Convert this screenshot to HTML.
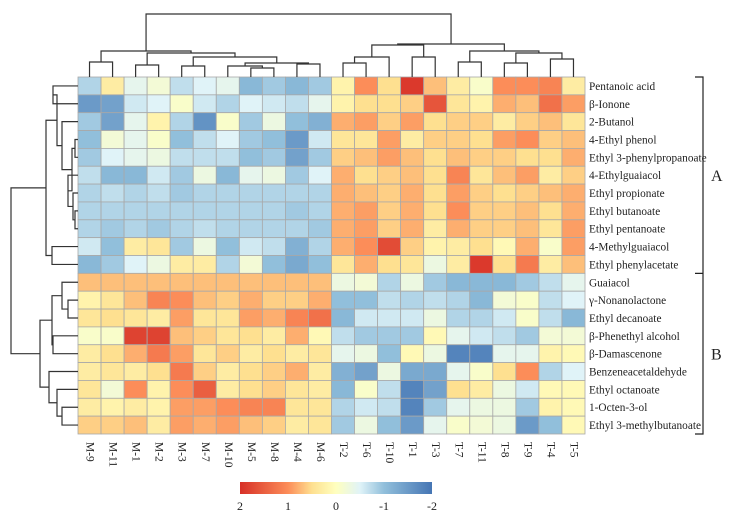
<!DOCTYPE html>
<html><head><meta charset="utf-8"><style>
body{margin:0;background:#fff;}
svg text{font-family:"Liberation Serif",serif;fill:#222;}
</style></head><body>
<svg id="chart" width="754" height="516" xmlns="http://www.w3.org/2000/svg"></svg>
<script>
const columns=["M-9","M-11","M-1","M-2","M-3","M-7","M-10","M-5","M-8","M-4","M-6","T-2","T-6","T-10","T-1","T-3","T-7","T-11","T-8","T-9","T-4","T-5"];
const rows=["Pentanoic acid","β-Ionone","2-Butanol","4-Ethyl phenol","Ethyl 3-phenylpropanoate","4-Ethylguaiacol","Ethyl propionate","Ethyl butanoate","Ethyl pentanoate","4-Methylguaiacol","Ethyl phenylacetate","Guaiacol","γ-Nonanolactone","Ethyl decanoate","β-Phenethyl alcohol","β-Damascenone","Benzeneacetaldehyde","Ethyl octanoate","1-Octen-3-ol","Ethyl 3-methylbutanoate"];
const values=[
[-0.8,0.3,-0.4,-0.2,-0.7,-0.5,-0.4,-1.1,-0.9,-1.1,-0.9, 0.2,1.0,0.5,1.9,0.7,0.3,-0.1,1.0,1.0,1.1,0.3],
[-1.5,-1.4,-0.6,-0.5,-0.1,-0.6,-0.8,-0.5,-0.6,-0.7,-0.4, 0.2,0.5,0.5,0.6,1.6,0.4,0.2,0.8,0.7,1.3,0.9],
[-0.9,-1.4,-0.4,0.2,-0.8,-1.6,-0.1,-0.9,-0.3,-1.0,-1.2, 0.8,0.9,0.6,0.9,0.5,0.6,0.6,0.3,0.6,0.7,0.4],
[-1.0,-0.2,-0.4,-0.1,-1.0,-0.7,-0.5,-0.9,-1.0,-1.5,-0.6, 0.4,0.4,0.9,0.3,0.6,0.6,0.5,0.9,1.0,0.6,0.7],
[-0.9,-0.5,-0.4,-0.3,-0.7,-0.7,-0.7,-1.0,-0.9,-1.4,-0.9, 0.6,0.7,0.9,0.7,0.5,0.7,0.6,0.6,0.5,0.5,0.8],
[-0.7,-1.1,-1.1,-0.6,-0.9,-0.3,-1.1,-0.4,-0.3,-0.9,-0.5, 0.8,0.5,0.6,0.7,0.5,1.1,0.4,0.7,0.9,0.3,0.6],
[-0.8,-0.7,-0.8,-0.7,-0.9,-0.8,-0.8,-0.8,-0.8,-0.8,-0.8, 0.8,0.7,0.6,0.8,0.5,0.9,0.6,0.5,0.6,0.7,0.8],
[-0.8,-0.8,-0.8,-0.8,-0.8,-0.8,-0.8,-0.8,-0.8,-0.9,-0.8, 0.8,0.9,0.6,0.8,0.5,1.0,0.6,0.6,0.7,0.5,0.8],
[-0.8,-0.9,-0.8,-0.9,-0.8,-0.7,-0.8,-0.8,-0.8,-0.8,-0.9, 0.8,0.9,0.6,0.8,0.3,0.8,0.6,0.6,0.7,0.4,0.9],
[-0.6,-1.0,0.3,0.4,-0.9,-0.3,-1.0,-0.6,-0.7,-1.2,-0.8, 0.8,1.0,1.7,0.6,0.2,0.3,0.5,0.1,0.8,-0.1,0.9],
[-1.1,-0.9,-0.5,-0.3,0.3,0.3,-0.8,-0.2,-1.0,-1.3,-1.0, 0.4,0.8,0.5,0.4,-0.3,0.3,1.9,0.5,1.2,0.3,0.7],
[0.7,0.7,0.7,0.7,0.7,0.7,0.7,0.7,0.7,0.7,0.7, -0.3,-0.2,-0.8,-0.3,-0.9,-1.1,-1.1,-1.1,-0.9,-0.7,-0.4],
[0.2,0.4,0.7,1.1,1.0,0.7,0.6,0.8,0.6,0.6,0.8, -1.0,-1.0,-0.7,-0.8,-0.7,-0.8,-1.1,-0.2,-0.1,-0.7,-0.5],
[0.4,0.5,0.4,0.3,0.9,0.4,0.4,0.9,0.8,1.1,1.3, -1.1,-0.6,-0.6,-0.6,-0.3,-0.8,-0.8,-0.6,-0.1,-0.7,-1.1],
[-0.1,-0.1,1.8,1.8,0.7,0.6,0.4,0.5,0.3,0.8,0.1, -0.7,-0.9,-0.9,-0.9,0.1,-0.4,-0.6,-0.7,-0.9,-0.2,-0.2],
[0.3,0.5,0.8,1.2,0.9,0.4,0.6,0.3,0.5,0.3,0.4, -0.4,-0.3,-1.0,0.1,-0.3,-1.8,-1.8,-0.4,-0.4,0.2,0.1],
[0.3,0.4,0.3,0.5,1.2,0.6,0.3,0.5,0.6,0.8,0.3, -1.2,-1.4,-0.3,-1.3,-1.3,-0.4,-0.1,0.5,1.0,-0.8,-0.5],
[0.4,-0.2,1.0,0.2,1.0,1.5,0.3,0.5,0.6,0.4,0.3, -1.1,-0.1,-0.7,-1.8,-1.4,0.5,0.3,-0.3,-0.6,0.1,0.1],
[0.3,0.2,0.3,0.2,0.9,0.9,1.0,1.1,1.1,0.4,0.4, -0.8,-0.6,-0.7,-1.8,-0.9,-0.4,-0.3,-0.3,-0.9,0.2,0.1],
[0.6,0.6,0.7,0.3,0.9,0.8,0.9,0.7,0.6,0.3,0.4, -0.9,-0.3,-1.0,-1.5,-0.4,-0.1,-0.2,-0.3,-1.5,-1.0,0.1]
];
const colorbarTicks=[2,1,0,-1,-2];

const NS="http://www.w3.org/2000/svg";
const svg=document.getElementById("chart");
const X0=78,Y0=77,CW=(585-78)/columns.length,RH=(434-77)/rows.length;
const xPos=i=>X0+CW*i, yPos=j=>Y0+RH*j;
const stops=[[2,[215,48,39]],[1,[252,141,89]],[0.5,[254,224,144]],[0,[255,255,191]],[-0.5,[224,243,248]],[-1,[145,191,219]],[-2,[69,117,180]]];
function color(v){v=Math.max(-2,Math.min(2,v));
 for(let k=0;k<stops.length-1;k++){const [a,ca]=stops[k],[b,cb]=stops[k+1];
  if(v<=a&&v>=b){const t=(a-v)/(a-b);return "rgb("+ca.map((c,i)=>Math.round(c+(cb[i]-c)*t)).join(",")+")";}}
 return "#fff";}
function el(tag,attrs,parent){const e=document.createElementNS(NS,tag);for(const k in attrs)e.setAttribute(k,attrs[k]);(parent||svg).appendChild(e);return e;}

const cells=el("g",{});


values.forEach((r,j)=>r.forEach((v,i)=>{
 const c=el("rect",{x:xPos(i),y:yPos(j),width:CW,height:RH,fill:color(v),stroke:"#a8a8a8","stroke-width":0.8},cells);
 
 
}));
rows.forEach((r,j)=>{
 const t=el("text",{x:589,y:yPos(j)+RH/2+4,"font-size":11.3});t.textContent=r;
 
 
});
columns.forEach((c,i)=>{
 const cx=xPos(i)+CW/2;
 const t=el("text",{x:cx,y:442,"font-size":11.5,transform:"rotate(90 "+cx+" 442)","dominant-baseline":"central"});
 t.textContent=c;
 
 
});
const dg=el("g",{stroke:"#333","stroke-width":1.2,fill:"none"});


function colC(i){return xPos(i)+CW/2;}
function rowC(j){return yPos(j)+RH/2;}
const colTree=[[[0,1,62],[[2,3,65],[[4,5,66],[[6,[7,8,68],66],[9,10,64],63],57],53],51],[[[[11,12,63],13,57],[14,15,57],45],[[16,17,62],[[18,19,63],[20,21,59],53],51],44],14];
function drawCol(n){if(typeof n==="number")return [colC(n),Y0];
 const a=drawCol(n[0]),b=drawCol(n[1]),h=n[2];
 el("path",{d:`M${a[0]},${a[1]}V${h}H${b[0]}V${b[1]}`},dg);return [(a[0]+b[0])/2,h];}
drawCol(colTree);
const rowTree=[[[[0,1,53],[2,[[3,4,75],[5,[6,[7,8,75],73],68],72],62],57],[9,10,52],46],[[[11,[12,13,68],62],[14,15,53],52],[16,[17,[18,19,62],57],49],40],11];
function drawRow(n){if(typeof n==="number")return [X0,rowC(n)];
 const a=drawRow(n[0]),b=drawRow(n[1]),h=n[2];
 el("path",{d:`M${a[0]},${a[1]}H${h}V${b[1]}H${b[0]}`},dg);return [h,(a[1]+b[1])/2];}
drawRow(rowTree);
const br=el("g",{stroke:"#222","stroke-width":1.2,fill:"none"});


el("path",{d:`M695,${Y0}H703V${yPos(11)}H695M703,${yPos(11)}V434H695`},br);
const la=el("text",{x:711,y:(Y0+yPos(11))/2+6,"font-size":16});la.textContent="A";


const lb=el("text",{x:711,y:(yPos(11)+434)/2+6,"font-size":16});lb.textContent="B";


const defs=el("defs",{});
const lg=el("linearGradient",{id:"cb",x1:0,x2:1,y1:0,y2:0},defs);
stops.forEach(s=>el("stop",{offset:(2-s[0])/4,"stop-color":color(s[0])},lg));
const cb=el("rect",{x:240,y:482,width:192,height:12,fill:"url(#cb)"});


colorbarTicks.forEach(v=>{
 const t=el("text",{x:240+(2-v)/4*192,y:510,"font-size":12,"text-anchor":"middle"});t.textContent=v;
 
 
});
</script>
</body></html>
